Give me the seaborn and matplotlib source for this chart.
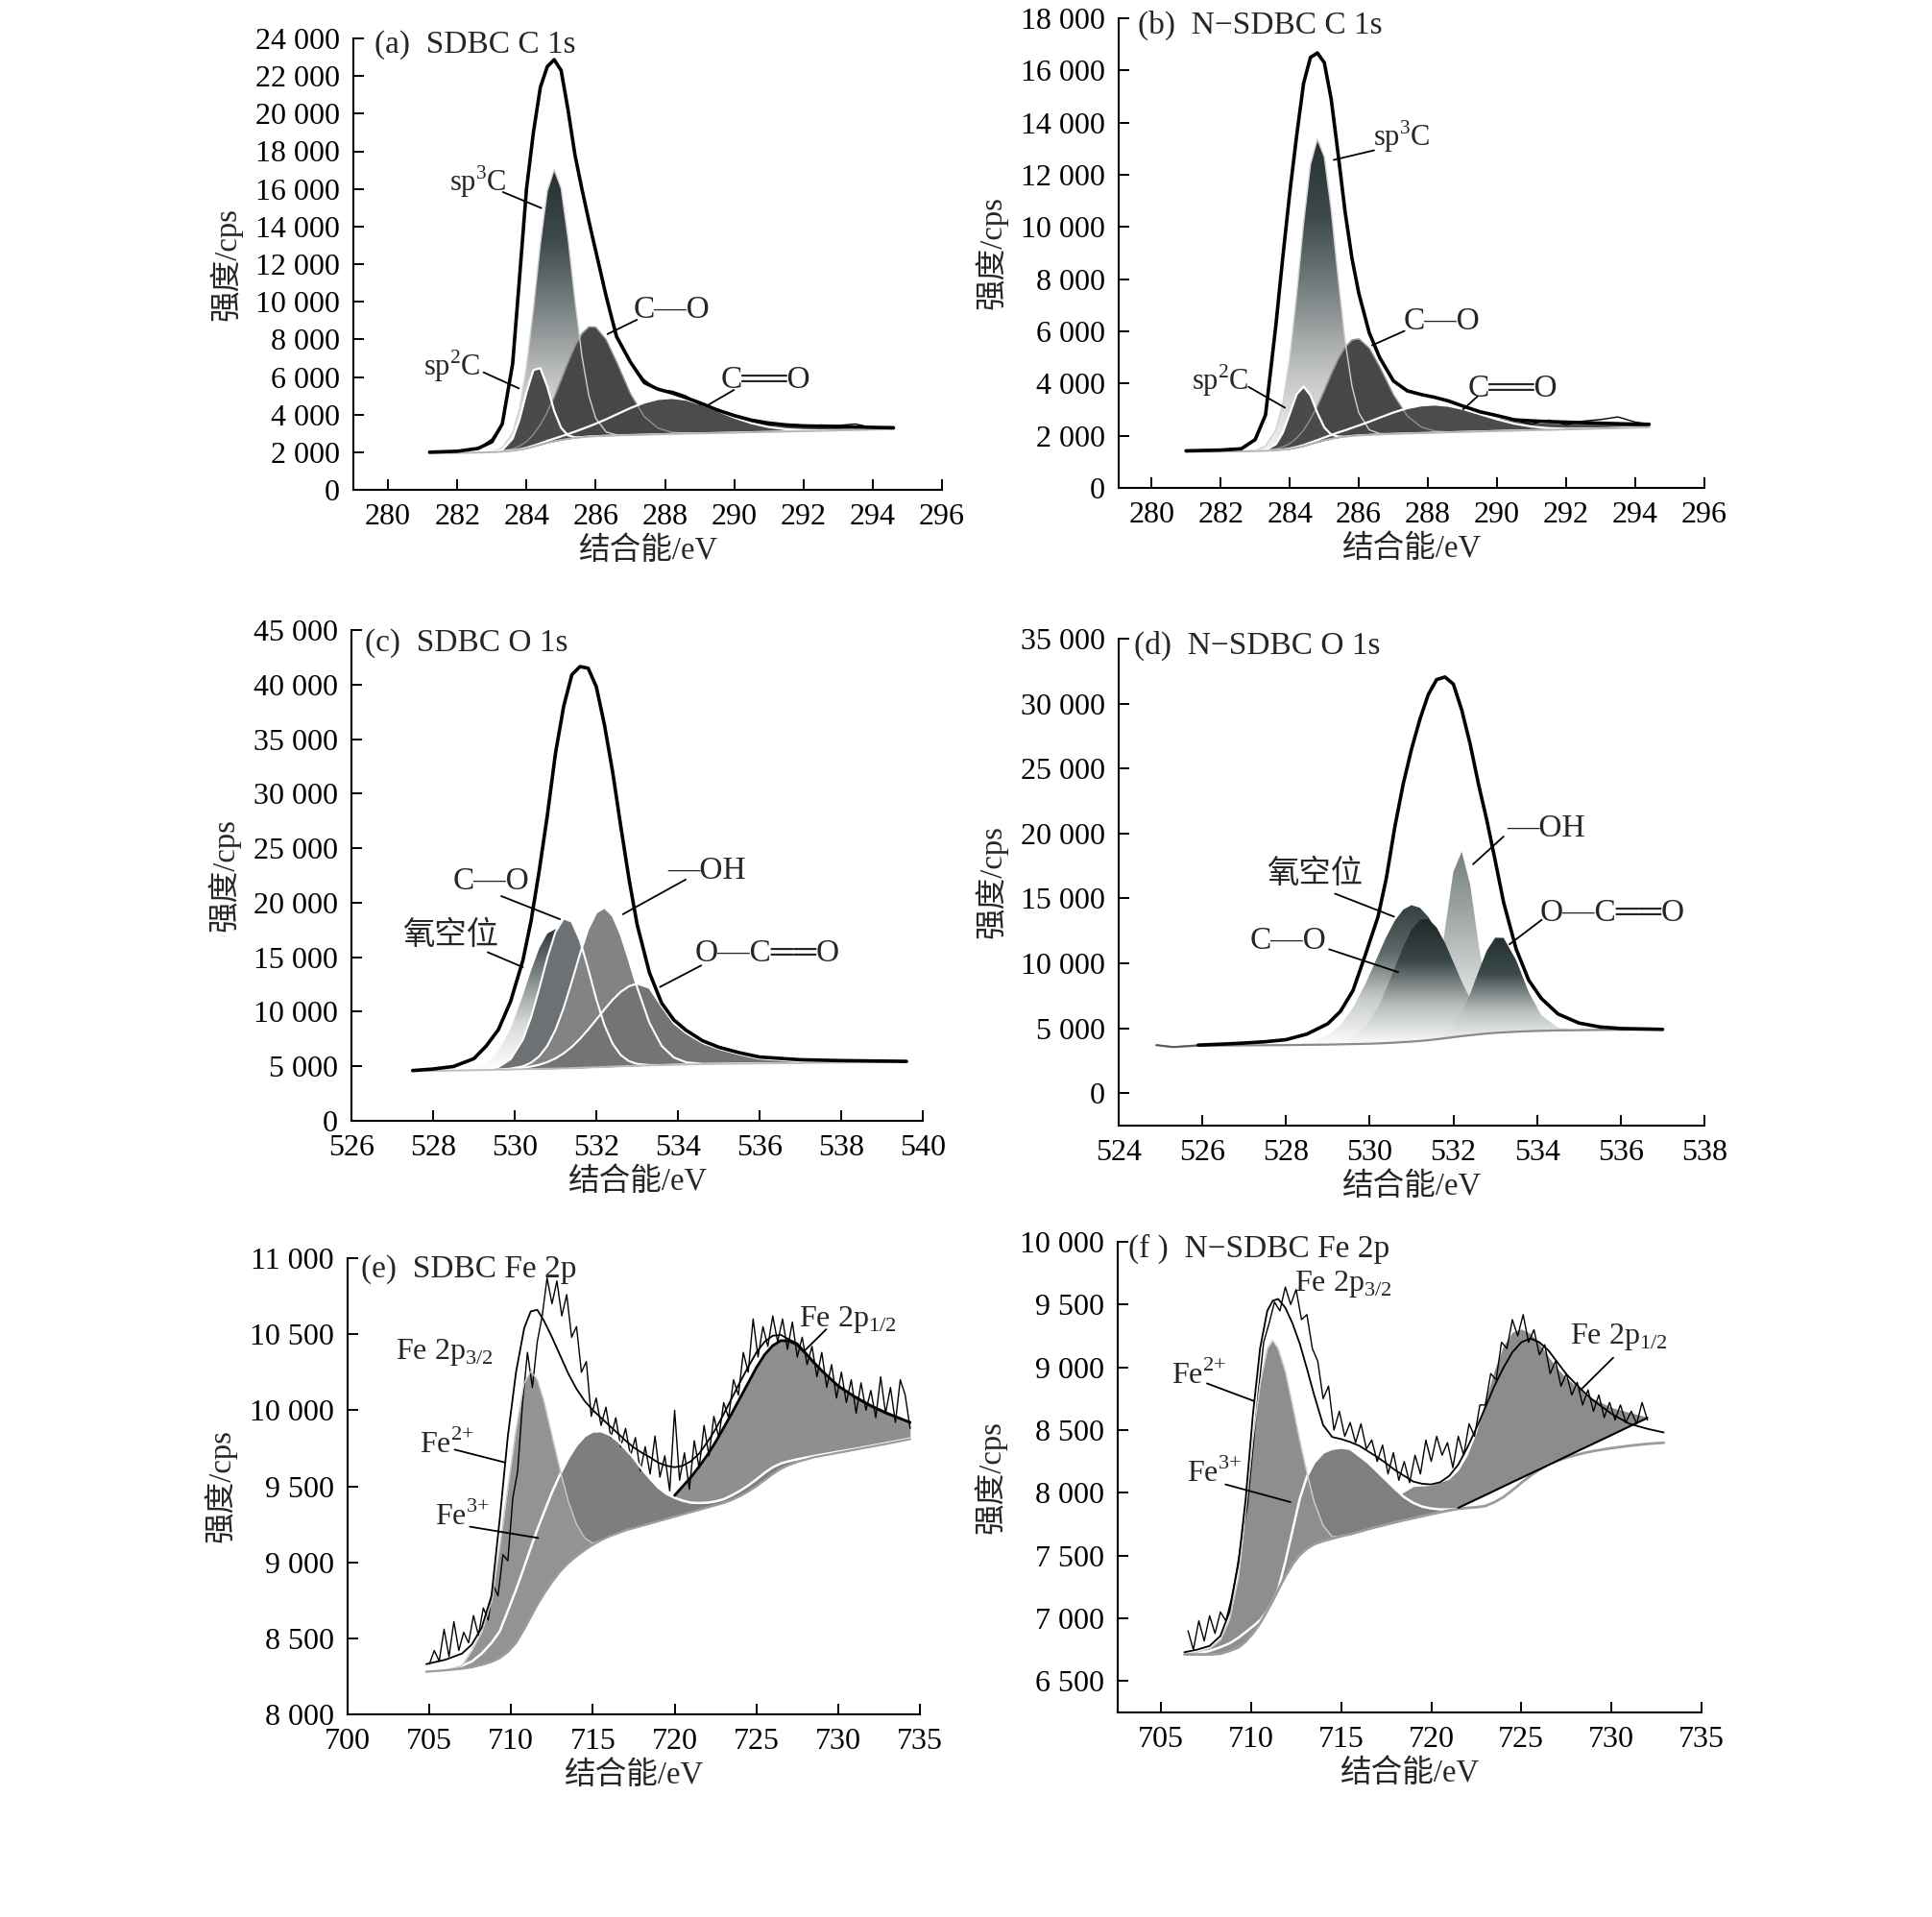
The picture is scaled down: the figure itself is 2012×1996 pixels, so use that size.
import numpy as np
import matplotlib
matplotlib.use("Agg")
import matplotlib.pyplot as plt
import seaborn as sns
from matplotlib.colors import LinearSegmentedColormap
from matplotlib.ticker import FuncFormatter

# ---------------- data ----------------
# (a) SDBC C 1s
xa = [281.2, 282.0, 282.6, 283.0, 283.3, 283.6, 283.8, 284.0, 284.2, 284.4,
      284.6, 284.8, 285.0, 285.2, 285.4, 285.6, 285.8, 286.0, 286.3, 286.6,
      287.0, 287.4, 287.8, 288.2, 288.6, 289.0, 289.5, 290.0, 290.5, 291.0,
      291.5, 292.0, 292.5, 293.0, 293.5, 294.0, 294.6]
base_a = [1950, 1960, 1980, 2000, 2030, 2080, 2130, 2200, 2300, 2400,
          2500, 2580, 2650, 2710, 2760, 2800, 2830, 2850, 2870, 2890,
          2910, 2930, 2950, 2970, 2990, 3000, 3020, 3040, 3060, 3080,
          3100, 3120, 3140, 3160, 3180, 3200, 3220]
sp2_a = [1950, 1960, 1980, 2000, 2120, 2725, 3750, 5190, 6370, 6470,
         5490, 4200, 3295, 2897, 2790, 2800, 2830, 2850, 2870, 2890,
         2910, 2930, 2950, 2970, 2990, 3000, 3020, 3040, 3060, 3080,
         3100, 3120, 3140, 3160, 3180, 3200, 3220]
sp3_a = [1950, 1960, 1980, 2030, 2236, 3033, 4310, 6518, 9621, 13070,
         15886, 17020, 16036, 13380, 10081, 7118, 5010, 3803, 3076, 2920,
         2910, 2930, 2950, 2970, 2990, 3000, 3020, 3040, 3060, 3080,
         3100, 3120, 3140, 3160, 3180, 3200, 3220]
co_a = [1950, 1960, 1980, 2009, 2062, 2181, 2329, 2569, 2945, 3460,
        4129, 4936, 5850, 6794, 7653, 8310, 8660, 8645, 7974, 6799,
        5108, 3891, 3278, 3058, 3008, 3000, 3020, 3040, 3060, 3080,
        3100, 3120, 3140, 3160, 3180, 3200, 3220]
cdo_a = [1950, 1960, 1980, 2003, 2040, 2095, 2153, 2234, 2350, 2471,
         2602, 2720, 2840, 2964, 3094, 3228, 3368, 3514, 3751, 4007,
         4346, 4637, 4830, 4886, 4799, 4580, 4218, 3846, 3540, 3334,
         3219, 3170, 3158, 3165, 3185, 3200, 3220]
tail_a = [1950, 1960, 1980, 2003, 2040, 2095, 2153, 2234, 2350, 2471,
          2602, 2720, 2840, 2964, 3094, 3228, 3368, 3514, 3751, 4007,
          4346, 4637, 4830, 4886, 4799, 4580, 4218, 3870, 3640, 3500,
          3420, 3370, 3350, 3330, 3310, 3300, 3280]
env_a = [2000, 2050, 2200, 2550, 3500, 6700, 11300, 16000, 19000, 21400,
         22500, 22870, 22300, 20200, 17800, 16000, 14300, 12700, 10300, 8150,
         6800, 5700, 5350, 5150, 4900, 4630, 4250, 3950, 3700, 3550,
         3450, 3400, 3380, 3360, 3340, 3320, 3300]
raw_a = [2000, 2080, 2180, 2700, 3450, 6750, 11250, 16050, 19000, 21450,
         22550, 22900, 22250, 20250, 17750, 16050, 14250, 12750, 10250, 8200,
         6750, 5850, 5300, 5250, 5000, 4550, 4300, 3900, 3650, 3450,
         3480, 3380, 3450, 3420, 3500, 3300, 3280]

# (b) N-SDBC C 1s
xb = [281.0, 282.0, 282.6, 283.0, 283.3, 283.6, 283.8, 284.0, 284.2, 284.4,
      284.6, 284.8, 285.0, 285.2, 285.4, 285.6, 285.8, 286.0, 286.3, 286.6,
      287.0, 287.4, 287.8, 288.2, 288.6, 289.0, 289.5, 290.0, 290.5, 291.0,
      291.5, 292.0, 292.5, 293.0, 293.5, 294.0, 294.4]
base_b = [1380, 1390, 1400, 1410, 1420, 1440, 1460, 1490, 1540, 1600,
          1680, 1750, 1820, 1880, 1930, 1960, 1990, 2010, 2030, 2050,
          2070, 2085, 2100, 2115, 2130, 2145, 2160, 2180, 2195, 2210,
          2225, 2240, 2260, 2275, 2290, 2310, 2320]
sp2_b = [1380, 1390, 1400, 1410, 1447, 1674, 2117, 2842, 3590, 3883,
         3549, 2875, 2317, 2042, 1969, 1960, 1990, 2010, 2030, 2050,
         2070, 2085, 2100, 2115, 2130, 2145, 2160, 2180, 2195, 2210,
         2225, 2240, 2260, 2275, 2290, 2310, 2320]
sp3_b = [1380, 1390, 1400, 1438, 1596, 2229, 3238, 4965, 7400, 10124,
         12391, 13363, 12690, 10660, 8050, 5653, 3906, 2869, 2227, 2083,
         2070, 2085, 2100, 2115, 2130, 2145, 2160, 2180, 2195, 2210,
         2225, 2240, 2260, 2275, 2290, 2310, 2320]
co_b = [1380, 1390, 1400, 1415, 1437, 1496, 1572, 1698, 1908, 2210,
        2633, 3146, 3741, 4363, 4945, 5395, 5671, 5713, 5354, 4644,
        3566, 2759, 2335, 2179, 2143, 2145, 2160, 2180, 2195, 2210,
        2225, 2240, 2260, 2275, 2290, 2310, 2320]
cdo_b = [1380, 1390, 1400, 1410, 1420, 1445, 1470, 1510, 1569, 1641,
         1739, 1831, 1930, 2027, 2123, 2207, 2301, 2392, 2536, 2689,
         2889, 3054, 3162, 3195, 3145, 3029, 2827, 2626, 2460, 2350,
         2290, 2267, 2270, 2280, 2292, 2310, 2320]
tail_b = [1380, 1390, 1400, 1410, 1420, 1445, 1470, 1510, 1569, 1641,
          1739, 1831, 1930, 2027, 2123, 2207, 2301, 2392, 2536, 2689,
          2889, 3054, 3162, 3195, 3145, 3029, 2827, 2680, 2560, 2500,
          2480, 2470, 2460, 2450, 2440, 2425, 2420]
env_b = [1420, 1450, 1500, 1850, 2800, 6250, 8850, 11300, 13500, 15500,
         16500, 16670, 16300, 14900, 12800, 10600, 8800, 7450, 5950, 5000,
         4100, 3720, 3580, 3470, 3330, 3140, 2920, 2770, 2610, 2570,
         2540, 2520, 2500, 2480, 2460, 2445, 2437]
raw_b = [1400, 1470, 1520, 1870, 2780, 6280, 8830, 11320, 13480, 15520,
         16480, 16700, 16280, 14920, 12780, 10620, 8780, 7470, 5930, 5020,
         4080, 3750, 3560, 3490, 3300, 3160, 2900, 2790, 2590, 2450,
         2600, 2420, 2560, 2620, 2720, 2520, 2450]

# (c) SDBC O 1s
xc = [527.5, 528.0, 528.5, 529.0, 529.3, 529.6, 529.9, 530.2, 530.4, 530.6,
      530.8, 531.0, 531.2, 531.4, 531.6, 531.8, 532.0, 532.2, 532.4, 532.6,
      532.8, 533.0, 533.3, 533.6, 533.9, 534.2, 534.6, 535.0, 535.5, 536.0,
      537.0, 538.0, 539.6]
base_c = [4550, 4580, 4610, 4640, 4660, 4680, 4710, 4730, 4750, 4760,
          4780, 4790, 4810, 4830, 4860, 4890, 4910, 4940, 4970, 5000,
          5030, 5050, 5080, 5110, 5140, 5160, 5190, 5220, 5240, 5260,
          5300, 5340, 5400]
vac_c = [4550, 4580, 4628, 4837, 5297, 6380, 8443, 11481, 13764, 15794,
         17170, 17576, 16893, 15314, 13209, 10989, 9002, 7459, 6389, 5729,
         5375, 5203, 5110, 5110, 5140, 5160, 5190, 5220, 5240, 5260,
         5300, 5340, 5400]
co_c = [4550, 4580, 4610, 4648, 4713, 4936, 5658, 7438, 9475, 12110,
        14949, 17321, 18557, 18259, 16548, 13939, 11155, 8781, 7070, 6022,
        5472, 5221, 5113, 5110, 5140, 5160, 5190, 5220, 5240, 5260,
        5300, 5340, 5400]
oh_c = [4550, 4580, 4610, 4640, 4663, 4696, 4782, 4997, 5329, 5912,
        6885, 8356, 10349, 12766, 15310, 17576, 19101, 19555, 18810, 17072,
        14734, 12241, 8997, 6878, 5806, 5369, 5224, 5220, 5240, 5260,
        5300, 5340, 5400]
ocdo_c = [4550, 4580, 4610, 4640, 4660, 4680, 4763, 4861, 4977, 5138,
          5385, 5723, 6187, 6779, 7517, 8367, 9283, 10216, 11096, 11826,
          12338, 12576, 12200, 10500, 8950, 8050, 7150, 6600, 6100, 5700,
          5450, 5380, 5400]
env_c = [4610, 4750, 4980, 5700, 6850, 8350, 10950, 14700, 18300, 22900,
         28000, 33700, 38000, 40900, 41650, 41500, 39800, 36300, 32000, 27000,
         22200, 18000, 13600, 10800, 9250, 8300, 7350, 6750, 6250, 5850,
         5600, 5520, 5450]

# (d) N-SDBC O 1s
xd = [524.9, 525.3, 525.9, 526.5, 527.0, 527.5, 528.0, 528.5, 529.0, 529.3,
      529.6, 529.9, 530.2, 530.4, 530.6, 530.8, 531.0, 531.2, 531.4, 531.6,
      531.8, 532.0, 532.2, 532.4, 532.6, 532.8, 533.0, 533.2, 533.5, 533.8,
      534.1, 534.5, 535.0, 535.5, 536.0, 537.0]
base_d = [3700, 3550, 3650, 3670, 3680, 3690, 3700, 3720, 3740, 3760,
          3780, 3800, 3830, 3860, 3890, 3930, 3970, 4020, 4080, 4150,
          4230, 4310, 4390, 4460, 4530, 4590, 4640, 4680, 4730, 4770,
          4800, 4830, 4850, 4870, 4880, 4900]
vac_d = [3700, 3550, 3650, 3670, 3680, 3690, 3725, 3878, 4451, 5252,
         6575, 8424, 10619, 12057, 13285, 14134, 14479, 14277, 13580, 12484,
         11166, 9775, 8478, 7360, 6474, 5830, 5390, 5111, 4898, 4800,
         4800, 4830, 4850, 4870, 4880, 4900]
co_d = [3700, 3550, 3650, 3670, 3680, 3690, 3700, 3723, 3787, 3932,
        4304, 5129, 6638, 8054, 9667, 11271, 12584, 13350, 13410, 12764,
        11571, 10087, 8584, 7268, 6273, 5580, 5164, 4934, 4804, 4790,
        4800, 4830, 4850, 4870, 4880, 4900]
oh_d = [3700, 3550, 3650, 3670, 3680, 3690, 3700, 3720, 3740, 3760,
        3780, 3800, 3830, 3860, 3890, 3931, 4044, 4402, 5534, 8241,
        12639, 17066, 18593, 16090, 11528, 7683, 5648, 4921, 4746, 4770,
        4800, 4830, 4850, 4870, 4880, 4900]
ocdo_d = [3700, 3550, 3650, 3670, 3680, 3690, 3700, 3720, 3740, 3760,
          3780, 3800, 3830, 3860, 3890, 3930, 3970, 4020, 4125, 4291,
          4609, 5202, 6197, 7635, 9370, 10991, 11971, 11959, 10239, 7796,
          6004, 5043, 4861, 4870, 4880, 4900]
env_d = [3700, 3550, 3700, 3780, 3860, 3960, 4120, 4550, 5350, 6300,
         7900, 10700, 13600, 16600, 20500, 23800, 26500, 28800, 30700, 31850,
         32050, 31500, 29500, 26900, 23800, 21000, 17900, 14700, 11100, 8700,
         7300, 6100, 5400, 5100, 4980, 4910]

# (e) SDBC Fe 2p
xe = [704.8, 706.0, 707.0, 707.6, 708.2, 708.8, 709.3, 709.8, 710.3, 710.8,
      711.2, 711.6, 712.0, 712.5, 713.0, 713.5, 714.0, 714.5, 715.0, 715.5,
      716.0, 716.5, 717.0, 717.5, 718.0, 718.5, 719.0, 719.5, 720.0, 720.5,
      721.0, 721.5, 722.0, 722.5, 723.0, 723.5, 724.0, 724.5, 725.0, 725.5,
      726.0, 726.5, 727.0, 727.5, 728.0, 728.5, 729.0, 730.0, 731.0, 732.0,
      733.0, 734.4]
base_e = [8280, 8290, 8300, 8310, 8325, 8345, 8370, 8410, 8470, 8560,
          8640, 8720, 8790, 8870, 8940, 8995, 9040, 9080, 9115, 9145,
          9170, 9190, 9210, 9225, 9240, 9255, 9270, 9285, 9300, 9315,
          9330, 9345, 9360, 9375, 9390, 9410, 9435, 9465, 9500, 9540,
          9580, 9615, 9640, 9660, 9675, 9690, 9700, 9720, 9740, 9760,
          9780, 9810]
fe3_e = [8285, 8300, 8320, 8348, 8400, 8470, 8545, 8680, 8820, 8970,
         9095, 9215, 9325, 9460, 9580, 9685, 9770, 9830, 9860, 9862,
         9840, 9800, 9745, 9685, 9612, 9550, 9492, 9450, 9424, 9405,
         9392, 9390, 9392, 9400, 9415, 9440, 9470, 9505, 9545, 9588,
         9625, 9650, 9665, 9677, 9688, 9698, 9708, 9727, 9745, 9765,
         9785, 9814]
fe2_e = [8280, 8290, 8320, 8420, 8540, 8740, 9100, 9490, 9870, 10180,
         10255, 10200, 10060, 9830, 9605, 9400, 9250, 9160, 9125, 9145,
         9170, 9190, 9210, 9225, 9240, 9255, 9270, 9285, 9300, 9315,
         9330, 9345, 9360, 9375, 9390, 9410, 9435, 9465, 9500, 9540,
         9580, 9615, 9640, 9660, 9675, 9690, 9700, 9720, 9740, 9760,
         9780, 9810]
p12_e = [8285, 8300, 8320, 8348, 8400, 8470, 8545, 8680, 8820, 8970,
         9095, 9215, 9325, 9460, 9580, 9685, 9770, 9830, 9860, 9862,
         9840, 9800, 9745, 9685, 9612, 9550, 9492, 9450, 9440, 9500,
         9560, 9630, 9705, 9790, 9885, 9980, 10080, 10180, 10280, 10365,
         10425, 10458, 10455, 10430, 10375, 10315, 10260, 10160, 10090, 10030,
         9980, 9920]
env_e = [8330, 8360, 8400, 8460, 8570, 8780, 9280, 9830, 10250, 10540,
         10650, 10660, 10590, 10480, 10360, 10240, 10140, 10060, 10000, 9950,
         9900, 9850, 9800, 9755, 9720, 9690, 9655, 9635, 9625, 9635,
         9665, 9715, 9790, 9875, 9975, 10080, 10185, 10285, 10380, 10450,
         10490, 10495, 10465, 10440, 10380, 10320, 10260, 10160, 10085, 10025,
         9975, 9920]
raw_e = [(705.0, 8330), (705.3, 8420), (705.6, 8350), (705.9, 8560), (706.2, 8380),
         (706.5, 8610), (706.8, 8420), (707.1, 8540), (707.4, 8470), (707.7, 8650),
         (708.0, 8520), (708.3, 8700), (708.6, 8620), (708.9, 8850), (709.2, 8780),
         (709.5, 9050), (709.8, 9010), (710.1, 9420), (710.4, 9600), (710.7, 10050),
         (711.0, 10380), (711.3, 10150), (711.6, 10450), (711.9, 10620), (712.2, 10870),
         (712.5, 10700), (712.8, 10850), (713.1, 10620), (713.4, 10760), (713.7, 10480),
         (714.0, 10550), (714.3, 10250), (714.6, 10320), (714.9, 9960), (715.2, 10080),
         (715.5, 9900), (715.8, 10020), (716.1, 9820), (716.4, 9950), (716.7, 9760),
         (717.0, 9880), (717.3, 9700), (717.6, 9820), (717.9, 9600), (718.2, 9760),
         (718.5, 9580), (718.8, 9830), (719.1, 9560), (719.4, 9700), (719.7, 9470),
         (720.0, 10000), (720.3, 9540), (720.6, 9720), (720.9, 9480), (721.2, 9800),
         (721.5, 9620), (721.8, 9900), (722.1, 9700), (722.4, 9960), (722.7, 9820),
         (723.0, 10050), (723.3, 9950), (723.6, 10200), (723.9, 10100), (724.2, 10380),
         (724.5, 10250), (724.8, 10600), (725.1, 10350), (725.4, 10550), (725.7, 10420),
         (726.0, 10620), (726.3, 10450), (726.6, 10600), (726.9, 10400), (727.2, 10580),
         (727.5, 10350), (727.8, 10480), (728.1, 10300), (728.4, 10420), (728.7, 10220),
         (729.0, 10380), (729.3, 10150), (729.6, 10300), (729.9, 10080), (730.2, 10250),
         (730.5, 10050), (730.8, 10200), (731.1, 9980), (731.4, 10180), (731.7, 10000),
         (732.0, 10130), (732.3, 9950), (732.6, 10220), (732.9, 9980), (733.2, 10150),
         (733.5, 9920), (733.8, 10200), (734.1, 10100), (734.4, 9880)]

# (f) N-SDBC Fe 2p
xf = [706.3, 707.0, 707.7, 708.3, 708.8, 709.3, 709.7, 710.1, 710.5, 710.9,
      711.2, 711.5, 711.9, 712.3, 712.7, 713.1, 713.5, 714.0, 714.5, 715.0,
      715.5, 716.0, 716.5, 717.0, 717.5, 718.0, 718.5, 719.0, 719.5, 720.0,
      720.5, 721.0, 721.5, 722.0, 722.5, 723.0, 723.5, 724.0, 724.5, 725.0,
      725.5, 726.0, 726.5, 727.0, 727.5, 728.0, 728.5, 729.0, 730.0, 731.0,
      732.0, 732.9]
base_f = [6712, 6712, 6712, 6718, 6740, 6768, 6815, 6880, 6960, 7060,
          7140, 7225, 7335, 7430, 7505, 7555, 7590, 7615, 7635, 7655,
          7670, 7690, 7710, 7730, 7747, 7765, 7782, 7798, 7814, 7830,
          7845, 7860, 7872, 7880, 7885, 7895, 7925, 7965, 8020, 8080,
          8135, 8185, 8225, 8255, 8280, 8300, 8318, 8333, 8356, 8375,
          8390, 8399]
fe3_f = [6712, 6720, 6740, 6770, 6800, 6845, 6890, 6935, 6985, 7060,
         7140, 7230, 7450, 7700, 7950, 8130, 8240, 8320, 8350, 8360,
         8350, 8295, 8240, 8170, 8100, 8030, 7965, 7920, 7890, 7875,
         7868, 7868, 7872, 7880, 7885, 7895, 7925, 7965, 8020, 8080,
         8135, 8185, 8225, 8255, 8280, 8300, 8318, 8333, 8356, 8375,
         8390, 8399]
fe2_f = [6712, 6730, 6760, 6830, 6990, 7330, 7850, 8420, 8870, 9150,
         9215, 9150, 8970, 8700, 8420, 8160, 7930, 7740, 7650, 7655,
         7670, 7690, 7710, 7730, 7747, 7765, 7782, 7798, 7814, 7830,
         7845, 7860, 7872, 7880, 7885, 7895, 7925, 7965, 8020, 8080,
         8135, 8185, 8225, 8255, 8280, 8300, 8318, 8333, 8356, 8375,
         8390, 8399]
env_f = [6730, 6750, 6780, 6860, 7050, 7440, 7950, 8620, 9150, 9450,
         9530, 9545, 9475, 9350, 9190, 8990, 8780, 8540, 8445, 8428,
         8405, 8375, 8330, 8285, 8235, 8180, 8135, 8090, 8072, 8067,
         8085, 8135, 8225, 8360, 8515, 8680, 8850, 8995, 9120, 9200,
         9230, 9200, 9135, 9040, 8945, 8870, 8800, 8735, 8630, 8550,
         8510, 8481]
xf12 = [718.3, 719.0, 720.0, 721.0, 721.5, 722.0, 722.5, 723.0, 723.5, 724.0,
        724.5, 725.0, 725.5, 726.0, 726.5, 727.0, 727.5, 728.0, 728.5, 729.0,
        730.0, 731.0, 732.0]
p12lo_f = [7990, 7920, 7875, 7868, 7880, 7914, 7948, 7982, 8016, 8051,
           8085, 8119, 8153, 8187, 8222, 8256, 8290, 8324, 8358, 8392,
           8460, 8529, 8597]
p12_f = [7990, 8050, 8060, 8110, 8180, 8300, 8480, 8740, 8975, 9170,
         9280, 9305, 9270, 9190, 9085, 8990, 8915, 8855, 8795, 8750,
         8680, 8640, 8604]
raw_f = [(706.5, 6900), (706.8, 6750), (707.1, 6980), (707.4, 6820), (707.7, 7020),
         (708.0, 6880), (708.3, 7050), (708.6, 6980), (708.9, 7150), (709.2, 7380),
         (709.5, 7650), (709.8, 7900), (710.1, 8350), (710.4, 8800), (710.7, 9200),
         (711.0, 9350), (711.3, 9520), (711.6, 9450), (711.9, 9640), (712.2, 9500),
         (712.5, 9620), (712.8, 9380), (713.1, 9420), (713.4, 9150), (713.7, 9050),
         (714.0, 8750), (714.3, 8850), (714.6, 8500), (714.9, 8650), (715.2, 8450),
         (715.5, 8560), (715.8, 8400), (716.1, 8550), (716.4, 8350), (716.7, 8420),
         (717.0, 8250), (717.3, 8380), (717.6, 8150), (717.9, 8320), (718.2, 8100),
         (718.5, 8250), (718.8, 8080), (719.1, 8300), (719.4, 8150), (719.7, 8420),
         (720.0, 8250), (720.3, 8450), (720.6, 8300), (720.9, 8400), (721.2, 8200),
         (721.5, 8450), (721.8, 8300), (722.1, 8550), (722.4, 8450), (722.7, 8700),
         (723.0, 8700), (723.3, 8950), (723.6, 8900), (723.9, 9200), (724.2, 9150),
         (724.5, 9380), (724.8, 9250), (725.1, 9420), (725.4, 9200), (725.7, 9300),
         (726.0, 9100), (726.3, 9180), (726.6, 8950), (726.9, 9050), (727.2, 8850),
         (727.5, 8950), (727.8, 8780), (728.1, 8880), (728.4, 8700), (728.7, 8820),
         (729.0, 8650), (729.3, 8780), (729.6, 8600), (729.9, 8720), (730.2, 8580),
         (730.5, 8700), (730.8, 8560), (731.1, 8650), (731.4, 8550), (731.7, 8720),
         (732.0, 8580)]

# ---------------- style ----------------
sns.set_style("ticks")
plt.rcParams["font.family"] = ["Liberation Serif", "Noto Sans CJK SC", "DejaVu Sans"]
plt.rcParams["mathtext.fontset"] = "custom"
plt.rcParams["mathtext.rm"] = "Liberation Serif"
plt.rcParams["axes.unicode_minus"] = False

W, H = 2012, 1996
fig = plt.figure(figsize=(W / 100, H / 100), dpi=100)
DBL = "C\u2550\u2550O"   # double bond label


def make_ax(l, r, t, b):
    return fig.add_axes([l / W, 1 - b / H, (r - l) / W, (b - t) / H])


def style(ax, xlim, xticks, ylim, yticks, title, tx, ty):
    ax.set_xlim(*xlim)
    ax.set_ylim(*ylim)
    ax.set_xticks(xticks)
    ax.set_yticks(yticks)
    ax.yaxis.set_major_formatter(FuncFormatter(lambda v, p: f"{int(round(v)):,}".replace(",", " ")))
    sns.despine(ax=ax)
    for s in ("left", "bottom"):
        ax.spines[s].set_linewidth(1.5)
        ax.spines[s].set_color("black")
    ax.tick_params(direction="in", length=8, width=1.4, labelsize=23, colors="black")
    ax.tick_params(axis="x", pad=10)
    ax.tick_params(axis="y", pad=10)
    ax.set_xlabel("结合能/eV", fontsize=23.5, labelpad=4)
    ax.set_ylabel("强度/cps", fontsize=23.5, labelpad=10)
    ax.text(tx, ty, title, transform=ax.transAxes, fontsize=24, va="center", ha="left")


def gfill(ax, x, lo, hi, colors, z):
    x = np.asarray(x, float)
    lo = np.asarray(lo, float)
    hi = np.asarray(hi, float)
    poly = ax.fill_between(x, lo, hi, facecolor="none", edgecolor="none", zorder=z)
    cmap = LinearSegmentedColormap.from_list("g", colors)
    grad = np.linspace(0, 1, 256).reshape(-1, 1)
    im = ax.imshow(grad, extent=[x.min(), x.max(), lo.min(), hi.max()], origin="lower",
                   aspect="auto", cmap=cmap, zorder=z, interpolation="bilinear")
    im.set_clip_path(poly.get_paths()[0], transform=ax.transData)


def line(ax, x, y, color, lw, z):
    sns.lineplot(x=list(x), y=list(y), ax=ax, color=color, lw=lw, zorder=z,
                 sort=False, errorbar=None, legend=False)


def note(ax, text, tx, ty, seg, fs=24):
    fam = ["Liberation Serif", "DejaVu Sans"] if "\u2550" in text else None
    ax.text(tx, ty, text, ha="center", va="center", fontsize=fs, zorder=12, family=fam)
    if seg is not None:
        ax.plot([seg[0], seg[2]], [seg[1], seg[3]], color="black", lw=1.3, zorder=12)


sp3_cols = ["#f4f4f4", "#c4c5c5", "#7d8586", "#3e4a4b", "#243032"]
dark = "#474747"

# ---------------- (a) ----------------
ax = make_ax(368, 981, 40, 510)
gfill(ax, xa, base_a, sp3_a, sp3_cols, 2)
ax.fill_between(xa, base_a, tail_a, color="#4c4c4c", lw=0, zorder=3)
ax.fill_between(xa, base_a, co_a, color=dark, lw=0, zorder=4)
ax.fill_between(xa, base_a, sp2_a, color="#4a4a4a", lw=0, zorder=5)
line(ax, xa, co_a, "#8f8f8f", 1.0, 6)
line(ax, xa, sp3_a, "#d0d0d0", 1.0, 6)
line(ax, xa, sp2_a, "white", 1.6, 6)
line(ax, xa, cdo_a, "white", 1.6, 6)
line(ax, xa, base_a, "#b5b5b5", 1.4, 6)
line(ax, xa, raw_a, "black", 1.0, 7)
line(ax, xa, env_a, "black", 2.6, 8)
note(ax, r"sp$^{\mathregular{3}}$C", 282.6, 16400, (283.32, 15830, 284.43, 14980), 22)
note(ax, r"sp$^{\mathregular{2}}$C", 281.85, 6580, (282.76, 6245, 283.78, 5395), 22)
note(ax, "C—O", 288.2, 9550, (287.19, 9043, 286.34, 8280))
note(ax, DBL, 290.9, 5820, (289.99, 5310, 289.2, 4463))
style(ax, (279.0, 296), range(280, 297, 2), (0, 24000), range(0, 24001, 2000),
      "(a)  SDBC C 1s", 0.036, 0.985)

# ---------------- (b) ----------------
ax = make_ax(1165, 1775, 19, 508)
gfill(ax, xb, base_b, sp3_b, sp3_cols, 2)
ax.fill_between(xb, base_b, tail_b, color="#4c4c4c", lw=0, zorder=3)
ax.fill_between(xb, base_b, co_b, color=dark, lw=0, zorder=4)
ax.fill_between(xb, base_b, sp2_b, color="#4a4a4a", lw=0, zorder=5)
line(ax, xb, co_b, "#8f8f8f", 1.0, 6)
line(ax, xb, sp3_b, "#d0d0d0", 1.0, 6)
line(ax, xb, sp2_b, "white", 1.6, 6)
line(ax, xb, cdo_b, "white", 1.6, 6)
line(ax, xb, base_b, "#b5b5b5", 1.4, 6)
line(ax, xb, raw_b, "black", 1.0, 7)
line(ax, xb, env_b, "black", 2.6, 8)
note(ax, r"sp$^{\mathregular{3}}$C", 287.25, 13450, (286.44, 12938, 285.27, 12570), 22)
note(ax, r"sp$^{\mathregular{2}}$C", 281.99, 4120, (282.81, 3871, 283.86, 3074), 22)
note(ax, "C—O", 288.4, 6382, (287.32, 6015, 286.38, 5463))
note(ax, DBL, 290.45, 3809, (289.43, 3503, 289.02, 3011))
style(ax, (279.05, 296), range(280, 297, 2), (0, 18000), range(0, 18001, 2000),
      "(b)  N−SDBC C 1s", 0.033, 0.984)

# ---------------- (c) ----------------
ax = make_ax(366, 961, 656, 1167)
gfill(ax, xc, base_c, vac_c, ["#ffffff", "#d8dada", "#7f8787", "#2d3939"], 2)
ax.fill_between(xc, base_c, co_c, color="#6e7173", lw=0, zorder=3)
ax.fill_between(xc, base_c, oh_c, color="#828384", lw=0, zorder=4)
ax.fill_between(xc, base_c, ocdo_c, color="#747474", lw=0, zorder=5)
for yy in (co_c, oh_c, ocdo_c):
    line(ax, xc, yy, "white", 1.5, 6)
line(ax, xc, base_c, "#bdbdbd", 1.4, 6)
line(ax, xc, env_c, "black", 2.6, 8)
note(ax, "C—O", 529.43, 21970, (529.67, 20606, 531.11, 18485))
note(ax, "氧空位", 528.43, 16970, (529.34, 15455, 530.2, 14091))
note(ax, "—OH", 534.7, 22879, (534.19, 22121, 532.65, 18939))
note(ax, "O—" + DBL, 536.2, 15303, (534.57, 14242, 533.56, 12273))
style(ax, (526, 540), range(526, 541, 2), (0, 45000), range(0, 45001, 5000),
      "(c)  SDBC O 1s", 0.024, 0.974)

# ---------------- (d) ----------------
ax = make_ax(1165, 1775, 665, 1172)
gfill(ax, xd, base_d, vac_d, ["#ffffff", "#c9cccc", "#5d6868", "#34403f"], 2)
gfill(ax, xd, base_d, oh_d, ["#ffffff", "#d6d8d8", "#a2a7a7", "#778080"], 3)
gfill(ax, xd, base_d, co_d, ["#ffffff", "#b5baba", "#3c4747", "#1d2929"], 4)
gfill(ax, xd, base_d, ocdo_d, ["#ffffff", "#b8bdbd", "#3e4a4a", "#233131"], 5)
line(ax, xd, base_d, "#8a8a8a", 1.6, 6)
line(ax, xd[:3], env_d[:3], "#555555", 1.2, 8)
line(ax, xd[2:], env_d[2:], "black", 2.6, 8)
note(ax, "氧空位", 528.69, 16873, (529.17, 15363, 530.58, 13595))
note(ax, "C—O", 528.06, 11707, (529.03, 11080, 530.68, 9320))
note(ax, "—OH", 534.21, 20393, (533.2, 19766, 532.47, 17628))
note(ax, "O—" + DBL, 535.8, 13852, (534.11, 13346, 533.34, 11458))
style(ax, (524, 538), range(524, 539, 2), (-2500, 35000), range(0, 35001, 5000),
      "(d)  N−SDBC O 1s", 0.026, 0.986)

# ---------------- (e) ----------------
ax = make_ax(362, 958, 1310, 1785)
ax.fill_between(xe, base_e, fe3_e, color="#7e7e81", lw=0, zorder=2)
ax.fill_between(xe, base_e, fe2_e, color="#939393", lw=0, zorder=3)
ax.fill_between(xe, fe3_e, p12_e, color="#8f8f8f", lw=0, zorder=3)
rx, ry = zip(*raw_e)
line(ax, rx, ry, "black", 1.0, 5)
line(ax, xe, fe3_e, "white", 1.8, 6)
line(ax, xe, fe2_e, "#c8c8c8", 1.0, 6)
line(ax, xe, base_e, "#9c9c9c", 1.6, 6)
line(ax, xe[28:], p12_e[28:], "black", 2.0, 7)
line(ax, xe, env_e, "black", 1.3, 8)
note(ax, r"Fe 2p$_{\mathregular{3/2}}$", 705.9, 10380, None, 23)
note(ax, r"Fe 2p$_{\mathregular{1/2}}$", 730.6, 10595, (729.27, 10532, 727.88, 10384), 23)
note(ax, r"Fe$^{\mathregular{2{+}}}$", 706.1, 9772, (706.55, 9741, 709.64, 9656), 23)
note(ax, r"Fe$^{\mathregular{3{+}}}$", 707.0, 9297, (707.48, 9234, 711.65, 9160), 23)
style(ax, (700, 735), range(700, 736, 5), (8000, 11000), range(8000, 11001, 500),
      "(e)  SDBC Fe 2p", 0.023, 0.975)

# ---------------- (f) ----------------
ax = make_ax(1164, 1772, 1293, 1783)
ax.fill_between(xf, base_f, fe3_f, color="#7f7f82", lw=0, zorder=2)
ax.fill_between(xf, base_f, fe2_f, color="#8e8e8e", lw=0, zorder=3)
ax.fill_between(xf12, p12lo_f, p12_f, color="#8c8c8c", lw=0, zorder=3)
rx, ry = zip(*raw_f)
line(ax, rx, ry, "black", 1.0, 5)
line(ax, xf, fe3_f, "white", 1.8, 6)
line(ax, xf, fe2_f, "#d0d0d0", 1.0, 6)
line(ax, xf, base_f, "#9c9c9c", 2.0, 6)
line(ax, xf12[4:], p12lo_f[4:], "black", 1.5, 7)
line(ax, xf, env_f, "black", 1.3, 8)
note(ax, r"Fe 2p$_{\mathregular{3/2}}$", 715.1, 9665, None, 23)
note(ax, r"Fe 2p$_{\mathregular{1/2}}$", 730.4, 9243, (730.1, 9077, 728.3, 8821), 23)
note(ax, r"Fe$^{\mathregular{2{+}}}$", 707.1, 8936, (707.55, 8872, 710.15, 8732), 23)
note(ax, r"Fe$^{\mathregular{3{+}}}$", 707.95, 8156, (708.58, 8067, 712.19, 7926), 23)
style(ax, (702.6, 735), range(705, 736, 5), (6250, 10000), range(6500, 10001, 500),
      "(f )  N−SDBC Fe 2p", 0.018, 0.986)

fig.savefig("out.png", dpi=100, facecolor="white")
